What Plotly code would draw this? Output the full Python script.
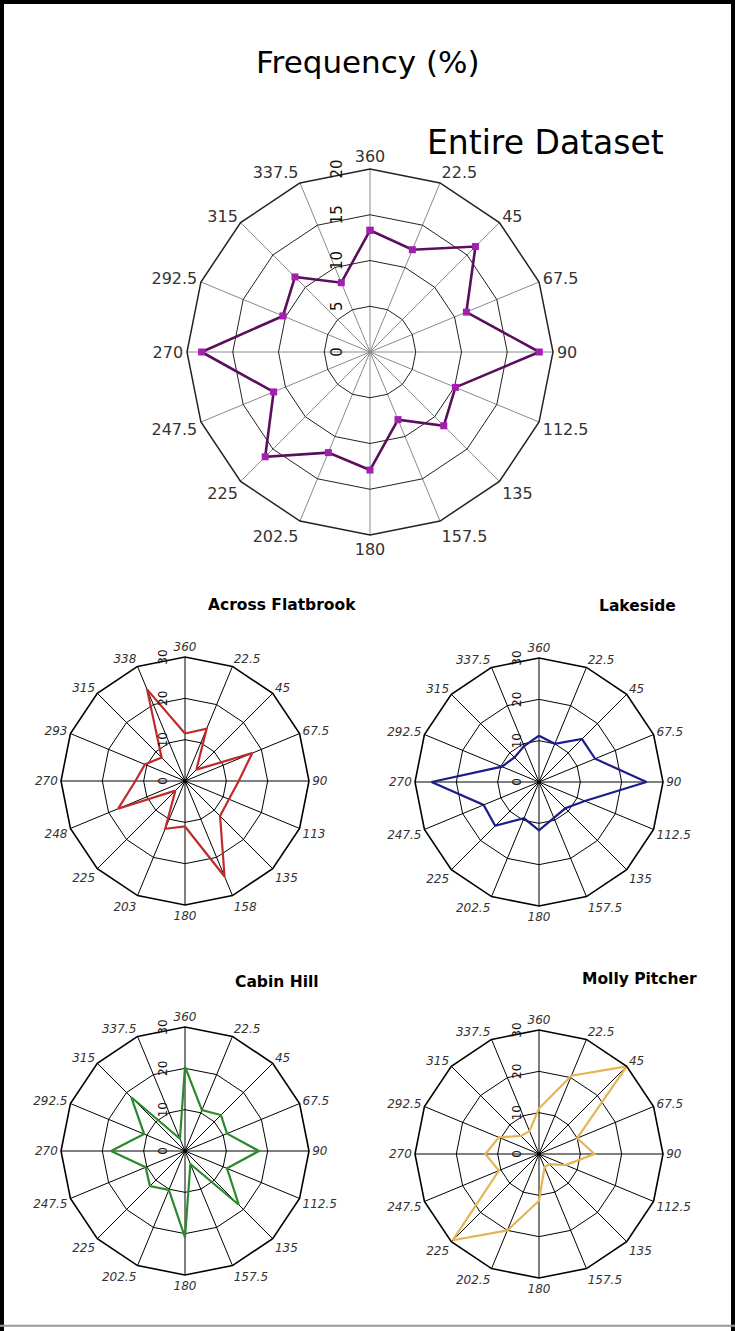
import plotly.graph_objects as go

# ---------------- data ----------------
dirs_full = ["360", "22.5", "45", "67.5", "90", "112.5", "135", "157.5",
             "180", "202.5", "225", "247.5", "270", "292.5", "315", "337.5"]
dirs_round = ["360", "22.5", "45", "67.5", "90", "113", "135", "158",
              "180", "203", "225", "248", "270", "293", "315", "338"]

entire = [13.3, 12.1, 16.3, 11.4, 18.5, 10.1, 11.4, 8.0,
          12.9, 11.9, 16.2, 11.4, 18.4, 10.3, 11.6, 8.2]
across_flatbrook = [11.5, 13.7, 3.9, 17.6, 13.0, 11.5, 12.0, 25.0,
                    11.0, 12.5, 3.3, 17.5, 12.0, 10.5, 8.0, 24.0]
lakeside = [11.2, 10.0, 14.7, 14.7, 26.0, 12.0, 9.0, 9.4,
            11.7, 9.5, 15.0, 14.5, 26.0, 9.7, 8.4, 9.4]
cabin_hill = [20.4, 10.7, 12.3, 11.0, 17.9, 11.0, 18.4, 3.4,
              20.9, 10.2, 12.0, 10.3, 17.9, 10.7, 18.4, 3.2]
molly_pitcher = [11.0, 20.5, 30.0, 10.0, 13.4, 7.0, 3.5, 3.5,
                 11.3, 20.0, 29.5, 10.5, 13.0, 10.5, 6.2, 6.0]

main_title = "Frequency (%)"
top_title = "Entire Dataset"
small_titles = ["Across Flatbrook", "Lakeside", "Cabin Hill", "Molly Pitcher"]

W, H = 735, 1331


def closed(seq):
    return list(seq) + [seq[0]]


def dom(cx, cy, r):
    # centre/half-size in pixels (y from top) -> paper domain
    return ([(cx - r) / W, (cx + r) / W], [(H - cy - r) / H, (H - cy + r) / H])


fig = go.Figure()

fig.add_trace(go.Scatterpolar(
    r=closed(entire), theta=closed(dirs_full), mode="lines+markers",
    line=dict(color="#5a0f5c", width=2.6),
    marker=dict(symbol="square", size=7, color="#a31fb0"),
    subplot="polar", showlegend=False))

small_series = [
    (across_flatbrook, dirs_round, "#bf2b2b", "polar2"),
    (lakeside, dirs_full, "#1c1c8a", "polar3"),
    (cabin_hill, dirs_full, "#2a8a2a", "polar4"),
    (molly_pitcher, dirs_full, "#e3b554", "polar5"),
]
for vals, cats, col, sp in small_series:
    fig.add_trace(go.Scatterpolar(
        r=closed(vals), theta=closed(cats), mode="lines",
        line=dict(color=col, width=2.2),
        subplot=sp, showlegend=False))


def polar_layout(d, rmax, dtick, small):
    if small:
        rad = dict(range=[0, rmax], dtick=dtick, tick0=0, angle=90,
                   side="counterclockwise", showline=False,
                   ticks="outside", ticklen=13, tickcolor="rgba(0,0,0,0)",
                   tickfont=dict(family="DejaVu Sans", size=12, color="#111"),
                   gridcolor="black", gridwidth=1.4)
        ang = dict(rotation=90, direction="clockwise", type="category",
                   showline=True, linecolor="black", linewidth=1.6,
                   gridcolor="black", gridwidth=1.3, ticks="",
                   tickfont=dict(family="DejaVu Sans", size=12, color="#333",
                                 style="italic"))
    else:
        rad = dict(range=[0, rmax], dtick=dtick, tick0=0, angle=90,
                   side="counterclockwise", showline=False,
                   ticks="outside", ticklen=22, tickcolor="rgba(0,0,0,0)",
                   tickfont=dict(family="DejaVu Sans", size=15, color="#111"),
                   gridcolor="#222", gridwidth=1.3)
        ang = dict(rotation=90, direction="clockwise", type="category",
                   showline=True, linecolor="#222", linewidth=1.5,
                   gridcolor="#8a8a8a", gridwidth=1, ticks="",
                   tickfont=dict(family="DejaVu Sans", size=16, color="#333"))
    return dict(domain=dict(x=d[0], y=d[1]), bgcolor="white",
                gridshape="linear", radialaxis=rad, angularaxis=ang)


fig.update_layout(
    width=W, height=H,
    margin=dict(l=0, r=0, t=0, b=0),
    paper_bgcolor="white",
    polar=polar_layout(dom(370, 352, 183), 20, 5, False),
    polar2=polar_layout(dom(185, 781, 124), 30, 10, True),
    polar3=polar_layout(dom(539, 782, 124), 30, 10, True),
    polar4=polar_layout(dom(185, 1151, 124), 30, 10, True),
    polar5=polar_layout(dom(539, 1154, 124), 30, 10, True),
)

annots = [
    dict(text=main_title, x=0.5007, y=0.9534, size=31, bold=False),
    dict(text=top_title, x=0.7415, y=0.8933, size=33, bold=False),
    dict(text=small_titles[0], x=0.3837, y=0.5455, size=15.5, bold=True),
    dict(text=small_titles[1], x=0.8667, y=0.5447, size=15.5, bold=True),
    dict(text=small_titles[2], x=0.3769, y=0.2622, size=15.5, bold=True),
    dict(text=small_titles[3], x=0.8707, y=0.2645, size=15.5, bold=True),
]
for a in annots:
    fig.add_annotation(
        text=("<b>%s</b>" % a["text"]) if a["bold"] else a["text"],
        x=a["x"], y=a["y"], xref="paper", yref="paper",
        xanchor="center", yanchor="middle", showarrow=False,
        font=dict(family="DejaVu Sans", size=a["size"], color="black"))

# frame
for x0, y0, x1, y1, w, c in [
    (0, 0, 0, 1, 8, "black"),
    (0, 1, 1, 1, 8, "black"),
    (1, 0, 1, 1, 8, "black"),
    (0, 0.004, 1, 0.004, 2, "#9a9a9a"),
]:
    fig.add_shape(type="line", xref="paper", yref="paper",
                  x0=x0, y0=y0, x1=x1, y1=y1, line=dict(color=c, width=w))

fig.write_html(
    "out.html",
    config={"responsive": False, "displayModeBar": False},
    post_script="document.body.style.margin='0';"
                "document.body.style.overflow='hidden';",
)
